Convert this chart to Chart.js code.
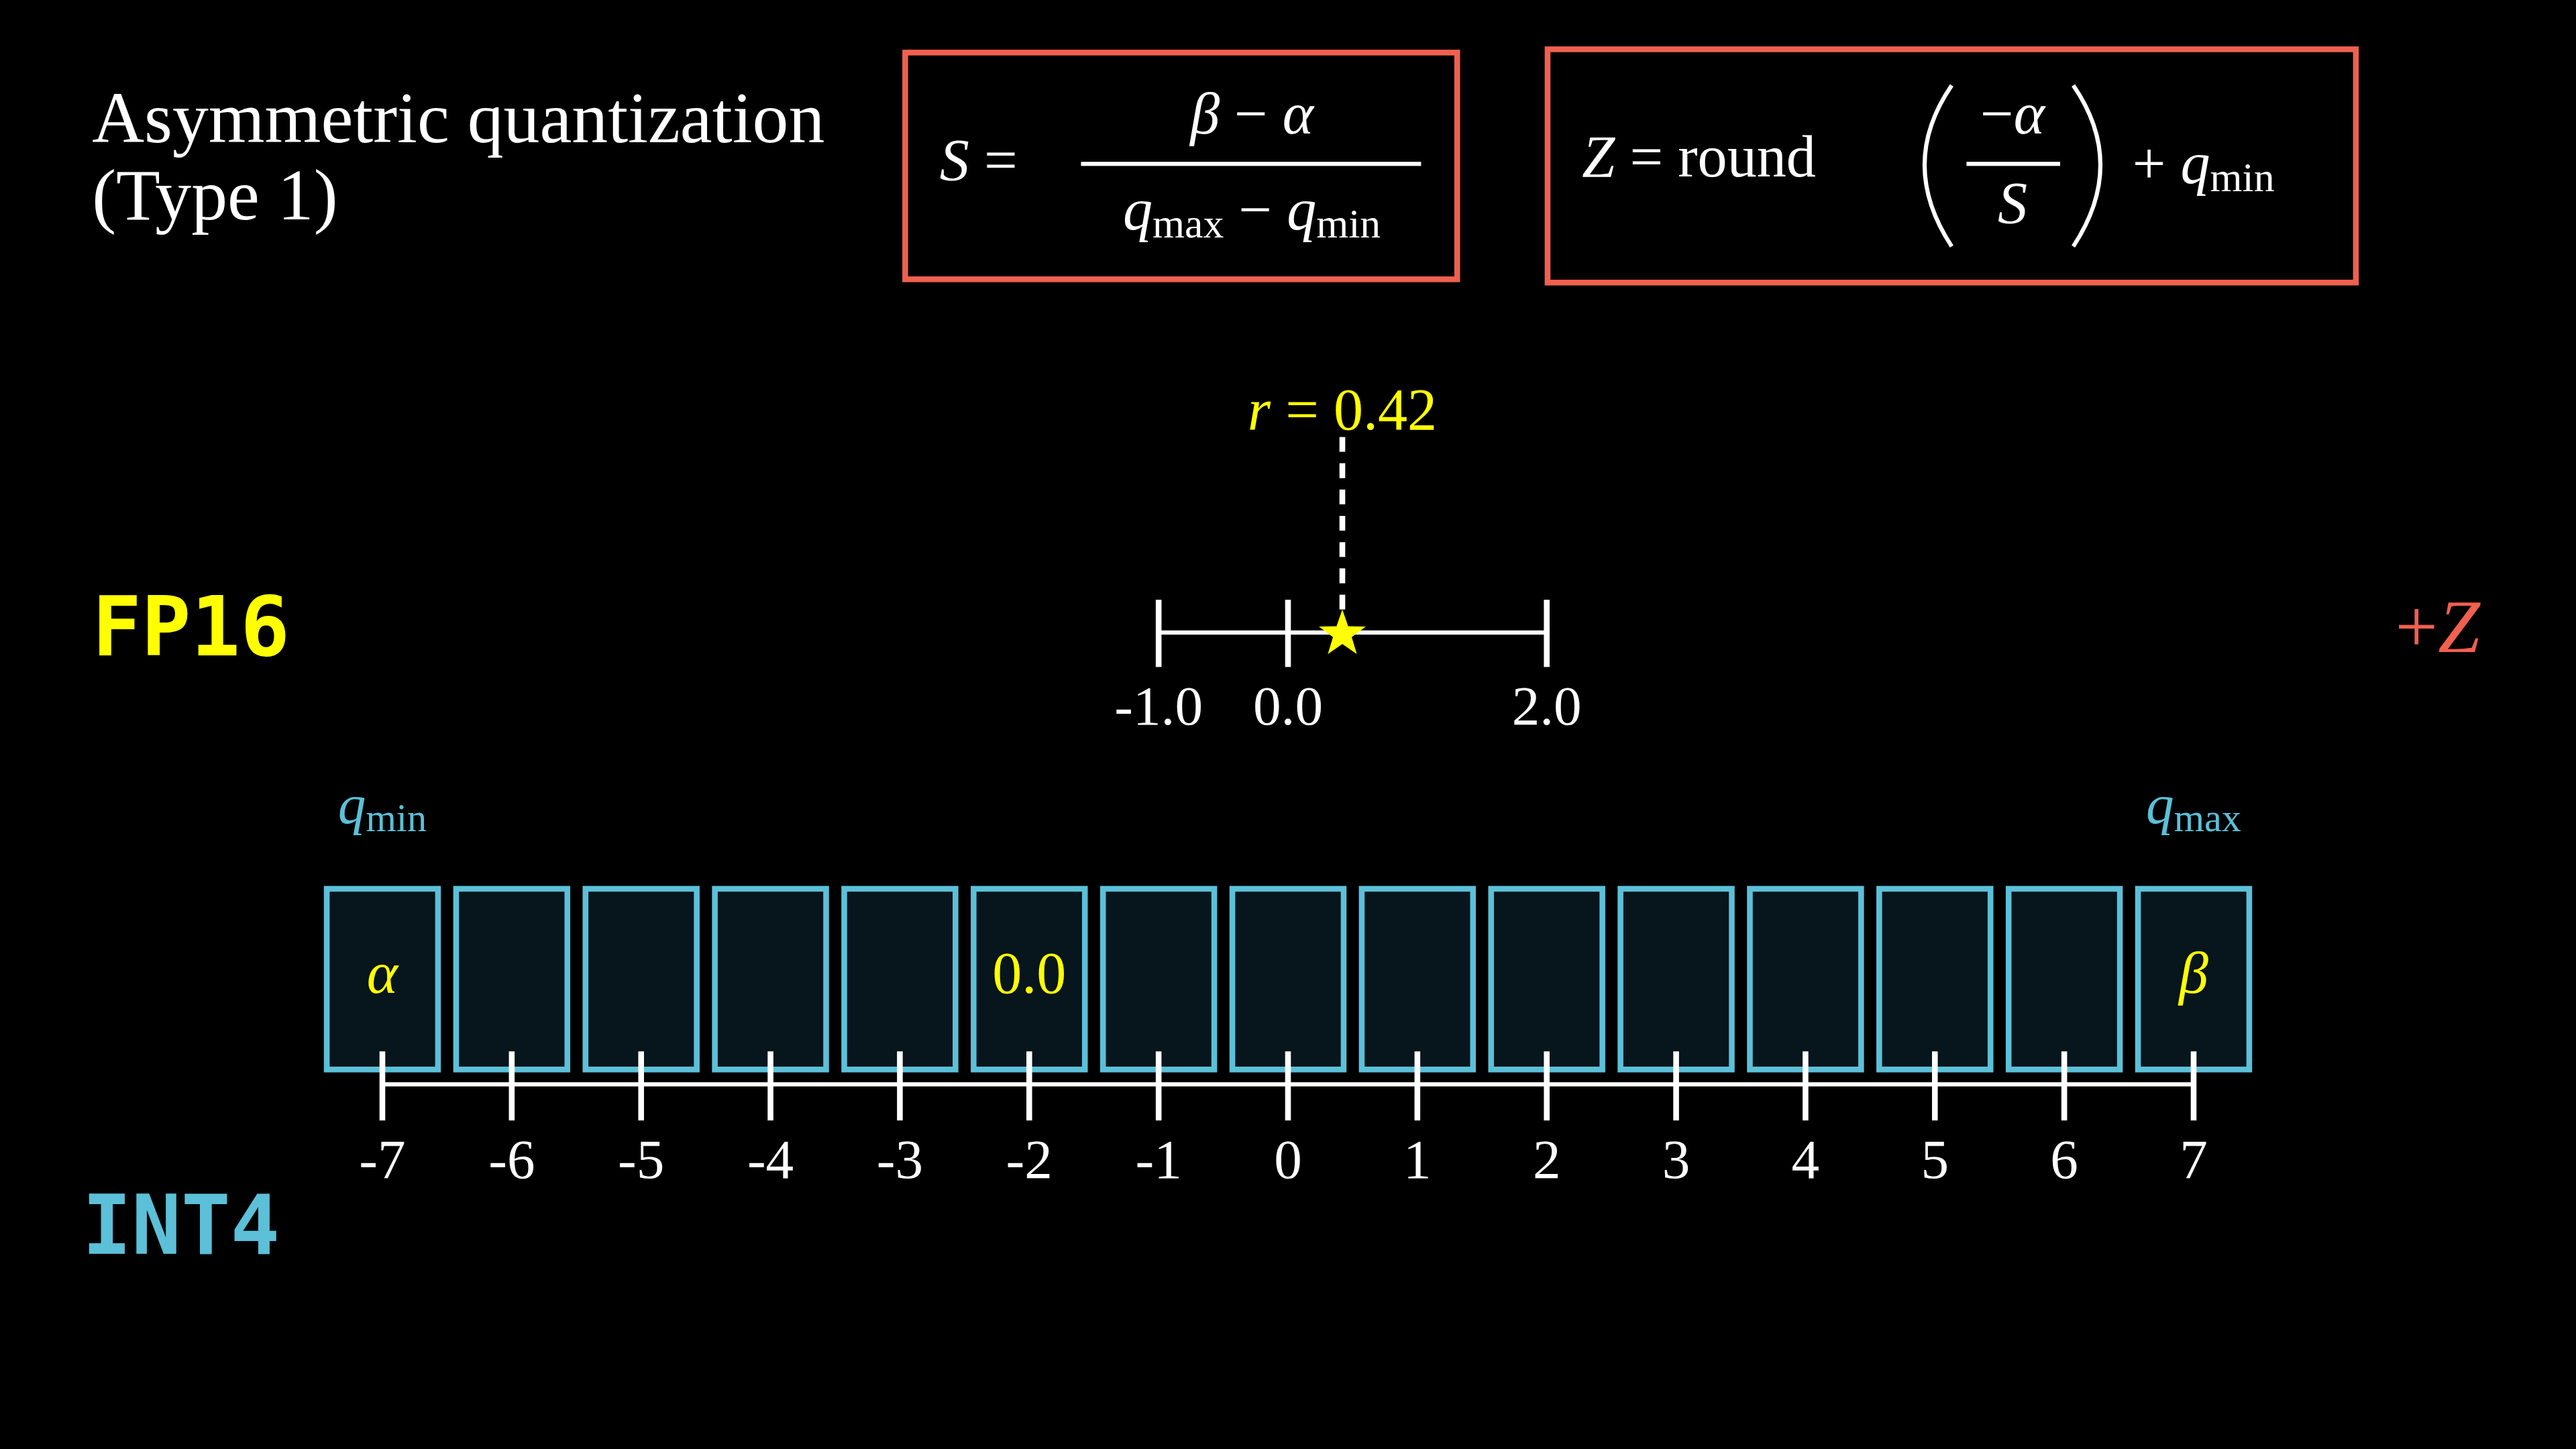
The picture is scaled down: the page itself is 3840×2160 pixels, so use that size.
<!DOCTYPE html>
<html><head><meta charset="utf-8">
<script src="https://cdn.jsdelivr.net/npm/chart.js@4/dist/chart.umd.min.js"></script>
<style>html,body{margin:0;padding:0;background:#000;overflow:hidden}#wrap{width:3840px;height:2160px}</style>
</head><body><div id="wrap"><canvas id="c" width="3840" height="2160"></canvas></div>
<script>
const intValues=[-7,-6,-5,-4,-3,-2,-1,0,1,2,3,4,5,6,7];
const intLabels=intValues.map(String);
const fpTicks=[-1.0,0.0,2.0];
const fpLabels=['-1.0','0.0','2.0'];
const rValue=0.42;
const boxTexts={'-7':'α','-2':'0.0','7':'β'};

const K=3840/1568;
const CY='#5bc0d8', YL='#ffff00', RD='#f0604f';
const SERIF='"Liberation Serif","DejaVu Serif",serif';
const MONO='"DejaVu Sans Mono",monospace';

function rich(ctx,parts,x,y,size,color,align){
  const segs=parts.map(p=>{const s=p.sub?size*0.7:size;
    const f=(p.i?'italic ':'')+s+'px '+SERIF;ctx.font=f;
    return {t:p.t,f,w:ctx.measureText(p.t).width,dy:p.sub?size*0.22:0};});
  const tw=segs.reduce((a,s)=>a+s.w,0);
  let cx=align==='center'?x-tw/2:x;
  ctx.fillStyle=color;ctx.textAlign='left';ctx.textBaseline='middle';
  segs.forEach(s=>{ctx.font=s.f;ctx.fillText(s.t,cx,y+s.dy);cx+=s.w;});
}

const drawPlugin={id:'draw',afterDraw(chart){
  const ctx=chart.ctx, xs=chart.scales.x, ys=chart.scales.y;
  const X=v=>xs.getPixelForValue(v), Y=d=>ys.getPixelForValue(d);
  ctx.save();
  // title
  ctx.fillStyle='#fff';ctx.textAlign='left';ctx.textBaseline='middle';
  ctx.font=(44*K)+'px '+SERIF;
  ctx.fillText('Asymmetric quantization',56*K,Y(75));
  ctx.fillText('(Type 1)',56*K,Y(122));
  // red boxes
  ctx.strokeStyle=RD;ctx.lineWidth=3.5*K;
  ctx.strokeRect(551*K,Y(32),336*K,Y(170)-Y(32));
  ctx.strokeRect(942*K,Y(30),492*K,Y(172)-Y(30));
  const ms=36*K;
  rich(ctx,[{t:'S',i:1},{t:' ='}],572*K,Y(100),ms,'#fff','left');
  rich(ctx,[{t:'β',i:1},{t:' − '},{t:'α',i:1}],762*K,Y(72),ms,'#fff','center');
  ctx.fillStyle='#fff';ctx.fillRect(658*K,Y(100)-1.5*K,207*K,2.5*K);
  rich(ctx,[{t:'q',i:1},{t:'max',sub:1},{t:' − '},{t:'q',i:1},{t:'min',sub:1}],762*K,Y(130),ms,'#fff','center');
  rich(ctx,[{t:'Z',i:1},{t:' = round'}],963*K,Y(98),ms,'#fff','left');
  ctx.strokeStyle='#fff';ctx.lineWidth=2.5*K;
  ctx.beginPath();ctx.moveTo(1188*K,Y(52));ctx.quadraticCurveTo(1155*K,Y(100),1188*K,Y(150));ctx.stroke();
  ctx.beginPath();ctx.moveTo(1262*K,Y(52));ctx.quadraticCurveTo(1295*K,Y(100),1262*K,Y(150));ctx.stroke();
  rich(ctx,[{t:'−'},{t:'α',i:1}],1225*K,Y(72),ms,'#fff','center');
  ctx.fillStyle='#fff';ctx.fillRect(1197*K,Y(100)-1.5*K,57*K,2.5*K);
  rich(ctx,[{t:'S',i:1}],1225*K,Y(126),ms,'#fff','center');
  rich(ctx,[{t:'+ '},{t:'q',i:1},{t:'min',sub:1}],1298*K,Y(102),ms,'#fff','left');
  // side labels
  ctx.font='bold '+(50*K)+'px '+MONO;ctx.textAlign='left';ctx.textBaseline='middle';
  ctx.fillStyle=YL;ctx.fillText('FP16',56*K,Y(386));
  ctx.fillStyle=CY;ctx.fillText('INT4',50*K,Y(750));
  rich(ctx,[{t:'+'},{t:'Z',i:1}],1458*K,Y(385),46*K,RD,'left');
  // FP16 axis
  ctx.strokeStyle='#fff';ctx.lineWidth=2.5*K;
  ctx.beginPath();ctx.moveTo(X(fpTicks[0]),Y(385));ctx.lineTo(X(fpTicks[fpTicks.length-1]),Y(385));ctx.stroke();
  ctx.lineWidth=3.5*K;
  fpTicks.forEach((v,i)=>{ctx.beginPath();ctx.moveTo(X(v),Y(365));ctx.lineTo(X(v),Y(406));ctx.stroke();
    ctx.fillStyle='#fff';ctx.font=(34*K)+'px '+SERIF;ctx.textAlign='center';ctx.textBaseline='middle';
    ctx.fillText(fpLabels[i],X(v),Y(432));});
  // dashed r line
  ctx.setLineDash([9*K,7*K]);ctx.lineWidth=3.5*K;
  ctx.beginPath();ctx.moveTo(X(rValue),Y(266));ctx.lineTo(X(rValue),Y(375));ctx.stroke();ctx.setLineDash([]);
  rich(ctx,[{t:'r',i:1},{t:' = 0.42'}],X(rValue),Y(252),36*K,YL,'center');
  // star
  const sx=X(rValue), sy=Y(386), R=15*K, r=6*K;
  ctx.beginPath();
  for(let i=0;i<10;i++){const a=-Math.PI/2+i*Math.PI/5, rr=i%2?r:R;ctx.lineTo(sx+rr*Math.cos(a),sy+rr*Math.sin(a));}
  ctx.closePath();ctx.fillStyle=YL;ctx.fill();
  // int boxes
  const hw=(X(1)-X(0))*0.43;
  intValues.forEach((v,i)=>{
    ctx.fillStyle='#07151c';ctx.fillRect(X(v)-hw,Y(541),2*hw,Y(651)-Y(541));
    ctx.strokeStyle=CY;ctx.lineWidth=3.5*K;ctx.strokeRect(X(v)-hw,Y(541),2*hw,Y(651)-Y(541));
    const t=boxTexts[String(v)];
    if(t){rich(ctx,[{t,i:t!=='0.0'}],X(v),Y(595),36*K,YL,'center');}
  });
  ctx.strokeStyle='#fff';ctx.lineWidth=2.5*K;
  ctx.beginPath();ctx.moveTo(X(intValues[0]),Y(660));ctx.lineTo(X(intValues[14]),Y(660));ctx.stroke();
  ctx.lineWidth=3.5*K;
  intValues.forEach((v,i)=>{ctx.beginPath();ctx.moveTo(X(v),Y(640));ctx.lineTo(X(v),Y(682));ctx.stroke();
    ctx.fillStyle='#fff';ctx.font=(34*K)+'px '+SERIF;ctx.textAlign='center';ctx.textBaseline='middle';
    ctx.fillText(intLabels[i],X(v),Y(708));});
  rich(ctx,[{t:'q',i:1},{t:'min',sub:1}],X(intValues[0]),Y(492),34*K,CY,'center');
  rich(ctx,[{t:'q',i:1},{t:'max',sub:1}],X(intValues[14]),Y(492),34*K,CY,'center');
  ctx.restore();
}};

new Chart(document.getElementById('c'),{
  type:'scatter',
  data:{datasets:[{data:[],showLine:false}]},
  options:{responsive:false,animation:false,devicePixelRatio:1,
    layout:{padding:0},
    plugins:{legend:{display:false},tooltip:{enabled:false}},
    scales:{
      x:{type:'linear',display:false,min:-784/78.75,max:(1568-784)/78.75},
      y:{type:'linear',display:false,min:0,max:882,reverse:true}
    }},
  plugins:[drawPlugin]
});
</script></body></html>
